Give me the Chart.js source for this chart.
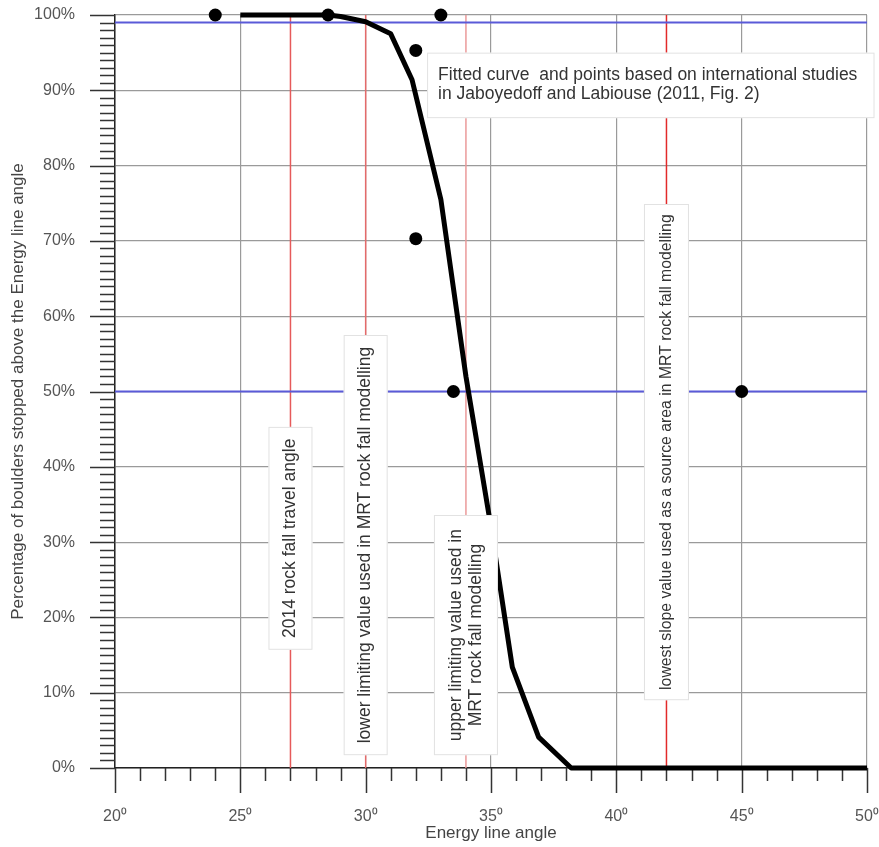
<!DOCTYPE html>
<html>
<head>
<meta charset="utf-8">
<script src="https://cdn.jsdelivr.net/npm/chart.js@4/dist/chart.umd.min.js"></script>
<style>
  body { margin: 0; background: #fff; }
  canvas { display: block; }
</style>
</head>
<body>
<canvas id="chart" width="879" height="847"></canvas>
<script>
// axis ranges and tick labels
const angleBounds = [20, 50];
const pctBounds = [0, 100];
const angleTicks = [20, 25, 30, 35, 40, 45, 50];
const pctTicks = [0, 10, 20, 30, 40, 50, 60, 70, 80, 90, 100];

// fitted curve (Jaboyedoff and Labiouse 2011)
const curveAngle = [25, 28.5, 29, 30, 31, 31.85, 33, 34, 35, 35.85, 36.9, 38.2, 50];
const curvePct = [100, 100, 99.8, 99.1, 97.5, 91.4, 75.5, 52, 32, 13.4, 4.1, 0, 0];

// points from the international studies
const studyAngle = [24, 28.5, 33, 32, 32, 33.5, 45];
const studyPct = [100, 100, 100, 95.3, 70.3, 50, 50];

// reference lines
const markerAngles = [27, 30, 34, 42];
const levelPcts = [99, 50];

const noteFitted = ['Fitted curve  and points based on international studies',
                    'in Jaboyedoff and Labiouse (2011, Fig. 2)'];
const noteMarkers = [
  ['2014 rock fall travel angle'],
  ['lower limiting value used in MRT rock fall modelling'],
  ['upper limiting value used in', 'MRT rock fall modelling'],
  ['lowest slope value used as a source area in MRT rock fall modelling']
];

const FONT = '"Liberation Sans", Arial, sans-serif';

// tick marks: long ones at the labels, short ones every degree / percent
// (chart.js ticks are kept invisible so the label gap doesn't pad the plot)
const tickMarks = {
  id: 'tickMarks',
  beforeDatasetsDraw(chart) {
    const { ctx, scales: { x, y } } = chart;
    ctx.save();
    ctx.strokeStyle = '#333';
    ctx.lineWidth = 1.5;
    ctx.beginPath();
    for (let a = angleBounds[0]; a <= angleBounds[1]; a++) {
      const len = angleTicks.includes(a) ? 25 : 13;
      const px = Math.round(x.getPixelForValue(a)) + 0.5;
      ctx.moveTo(px, y.bottom);
      ctx.lineTo(px, y.bottom + len);
    }
    for (let p = pctBounds[0]; p <= pctBounds[1]; p++) {
      const len = pctTicks.includes(p) ? 25 : 15;
      const py = Math.round(y.getPixelForValue(p)) + 0.5;
      ctx.moveTo(x.left - len, py);
      ctx.lineTo(x.left, py);
    }
    ctx.stroke();
    ctx.restore();
  }
};

// white label boxes on top of the lines
const notes = {
  id: 'notes',
  afterDatasetsDraw(chart) {
    const { ctx, scales: { x, y } } = chart;
    ctx.save();
    ctx.strokeStyle = '#e2e2e2';
    ctx.lineWidth = 1;

    const box = (l, t, r, b) => {
      ctx.fillStyle = '#fff';
      ctx.fillRect(l, t, r - l, b - t);
      ctx.strokeRect(l + 0.5, t + 0.5, r - l - 1, b - t - 1);
    };

    // fitted curve note
    ctx.font = '17.5px ' + FONT;
    const fl = x.getPixelForValue(32.45), fr = x.getPixelForValue(50.3);
    const ft = y.getPixelForValue(95), fb = y.getPixelForValue(86.3);
    box(fl, ft, fr, fb);
    ctx.fillStyle = '#333';
    ctx.textAlign = 'left';
    ctx.textBaseline = 'middle';
    ctx.fillText(noteFitted[0], fl + 11, ft + 23);
    ctx.fillText(noteFitted[1], fl + 11, ft + 42);

    // vertical notes on the red lines
    const spans = [[15.7, 45.3, 22], [1.7, 57.5, 22], [1.7, 33.6, 32], [9.0, 74.9, 22.5]];
    const sizes = [17.5, 17.5, 17.5, 15.8];
    markerAngles.forEach((a, i) => {
      const cx = x.getPixelForValue(a);
      const [lo, hi, hw] = spans[i];
      const top = y.getPixelForValue(hi), bot = y.getPixelForValue(lo);
      box(cx - hw, top, cx + hw, bot);
      const lines = noteMarkers[i];
      ctx.save();
      ctx.font = sizes[i] + 'px ' + FONT;
      ctx.translate(cx, (top + bot) / 2);
      ctx.rotate(-Math.PI / 2);
      ctx.fillStyle = '#333';
      ctx.textAlign = 'center';
      ctx.textBaseline = 'middle';
      lines.forEach((t, j) => {
        ctx.fillText(t, 0, (j - (lines.length - 1) / 2) * 20);
      });
      ctx.restore();
    });
    ctx.restore();
  }
};

const redColors = ['#e65a5a', '#e46a6a', '#eb9a9a', '#e22a2a'];

const datasets = [];
markerAngles.forEach((a, i) => datasets.push({
  type: 'line',
  data: [{ x: a, y: pctBounds[0] }, { x: a, y: pctBounds[1] }],
  borderColor: redColors[i], borderWidth: 1.5, pointRadius: 0, order: 3
}));
levelPcts.forEach(p => datasets.push({
  type: 'line',
  data: [{ x: angleBounds[0], y: p }, { x: angleBounds[1], y: p }],
  borderColor: '#5a5ad8', borderWidth: 2, pointRadius: 0, order: 2
}));
datasets.push({
  type: 'line',
  data: curveAngle.map((a, i) => ({ x: a, y: curvePct[i] })),
  borderColor: '#000', borderWidth: 5, pointRadius: 0, tension: 0,
  borderJoinStyle: 'round', clip: false, order: 1
});
datasets.push({
  type: 'scatter',
  data: studyAngle.map((a, i) => ({ x: a, y: studyPct[i] })),
  backgroundColor: '#000', borderWidth: 0, pointRadius: 6.5, clip: false, order: 0
});

new Chart(document.getElementById('chart'), {
  type: 'scatter',
  data: { datasets },
  options: {
    responsive: false,
    animation: false,
    layout: { autoPadding: false, padding: { top: 15, right: 12, left: 0, bottom: 0 } },
    plugins: { legend: { display: false }, tooltip: { enabled: false } },
    scales: {
      x: {
        type: 'linear',
        min: angleBounds[0], max: angleBounds[1],
        afterBuildTicks: s => { s.ticks = angleTicks.map(v => ({ value: v })); },
        afterFit: s => { s.height = 79; },
        ticks: { callback: v => v + '⁰', color: '#555', font: { family: FONT, size: 16 }, padding: 0, maxRotation: 0 },
        grid: { color: '#9a9a9a', lineWidth: 1.2, tickLength: 39, tickColor: 'rgba(0,0,0,0)' },
        border: { color: '#222', width: 1.5 },
        title: { display: true, text: 'Energy line angle', color: '#444', font: { family: FONT, size: 17 }, padding: { top: 0, bottom: 3 } }
      },
      y: {
        min: pctBounds[0], max: pctBounds[1],
        afterBuildTicks: s => { s.ticks = pctTicks.map(v => ({ value: v })); },
        afterFit: s => { s.width = 115; },
        ticks: { callback: v => v + '%', color: '#555', font: { family: FONT, size: 16 }, padding: 0 },
        grid: { color: '#9a9a9a', lineWidth: 1.2, tickLength: 40, tickColor: 'rgba(0,0,0,0)' },
        border: { color: '#222', width: 1.5 },
        title: { display: true, text: 'Percentage of boulders stopped above the Energy line angle', color: '#444', font: { family: FONT, size: 17 }, padding: { top: 8, bottom: 0 } }
      }
    }
  },
  plugins: [tickMarks, notes]
});
</script>
</body>
</html>
